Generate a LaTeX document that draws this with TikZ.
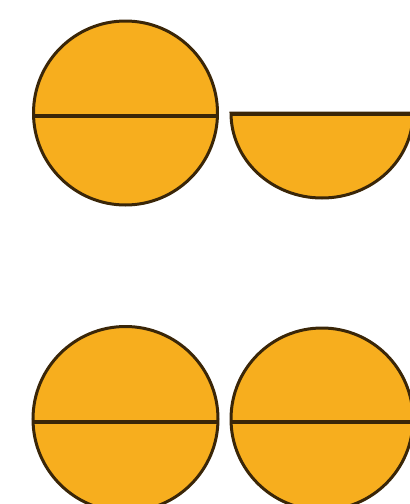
\documentclass[tikz,border=0pt]{standalone}
\definecolor{discfill}{HTML}{F7AE1E}
\definecolor{discedge}{HTML}{3A2608}
\tikzset{
  disc/.style={fill=discfill, draw=discedge, line width=3pt},
  midline/.style={draw=discedge, line width=4.5pt}
}
\begin{document}
\begin{tikzpicture}[x=1pt,y=-1pt]
\useasboundingbox (0,0) rectangle (410,504);
\clip (0,0) rectangle (410,504);
% top left full disc
\draw[disc] (125.5,113) circle (92);
\draw[midline] (34,116) -- (217,116);
% top right half disc
\draw[disc] (231,113) arc[start angle=180, end angle=0, x radius=91, y radius=85] -- cycle;
\draw[midline] (231,114) -- (412,114);
% bottom left disc
\draw[disc] (125.5,419) circle (92.5);
\draw[midline] (34,422) -- (217,422);
% bottom right disc
\draw[disc] (322,419) circle (91);
\draw[midline] (232,422) -- (412,422);
\end{tikzpicture}
\end{document}
